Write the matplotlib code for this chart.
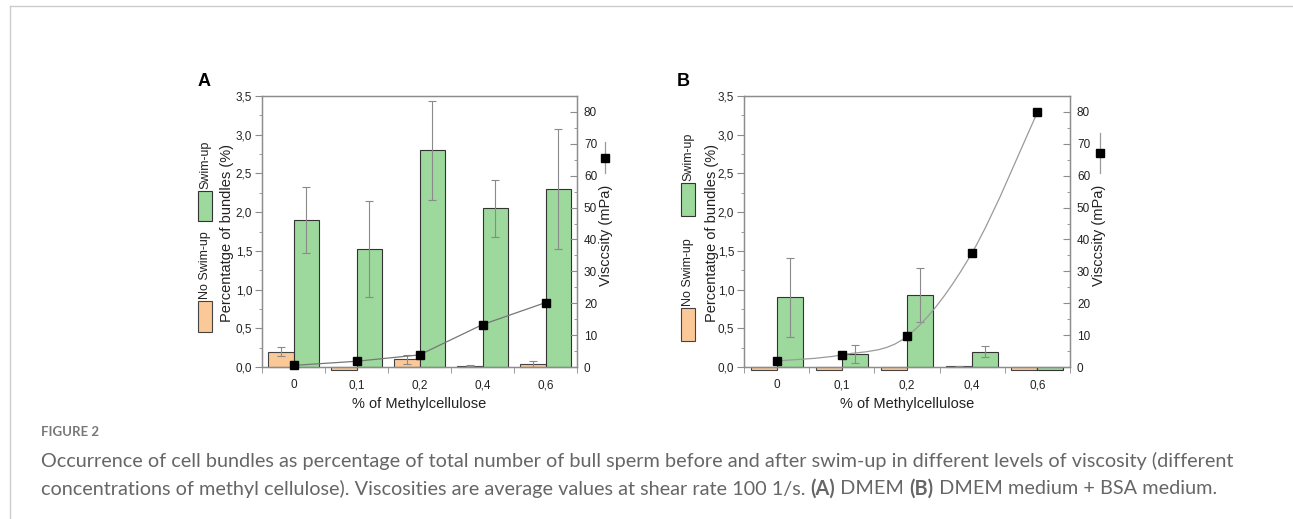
import matplotlib
matplotlib.use("Agg")
from matplotlib import pyplot as plt
from matplotlib.patches import Rectangle, PathPatch
from matplotlib.path import Path
from matplotlib.lines import Line2D
from matplotlib.ticker import FixedLocator, FuncFormatter
import numpy as np

plt.rcParams['font.family'] = ['Liberation Sans', 'DejaVu Sans']

# data
categories = ["0", "0,1", "0,2", "0,4", "0,6"]

# panel A - DMEM
a_no_swim = [0.20, -0.04, 0.10, 0.015, 0.035]
a_no_swim_err = [0.055, 0.0, 0.06, 0.005, 0.04]
a_swim = [1.90, 1.53, 2.80, 2.05, 2.30]
a_swim_err = [0.43, 0.62, 0.64, 0.37, 0.77]
a_visc = [0.5, 1.8, 3.8, 13.3, 20.2]

# panel B - DMEM + BSA
b_no_swim = [-0.04, -0.04, -0.04, 0.01, -0.04]
b_no_swim_err = [0.0, 0.0, 0.0, 0.005, 0.0]
b_swim = [0.90, 0.17, 0.935, 0.20, -0.04]
b_swim_err = [0.51, 0.12, 0.35, 0.07, 0.0]
b_visc = [1.9, 3.8, 9.6, 35.9, 79.9]

W, H = 1293, 519
fig = plt.figure(figsize=(W / 100, H / 100), dpi=100)

ORANGE = "#FBC898"
GREEN = "#9DD89C"
AXGRAY = "#8c8c8c"
TXT = "#222222"


def fx(x):
    return x / W


def fy(y):
    return 1 - y / H


def smooth_path(xs, ys):
    # catmull-rom style cubic bezier through the points (Origin "spline" look)
    pts = np.column_stack([xs, ys]).astype(float)
    verts = [pts[0]]
    codes = [Path.MOVETO]
    n = len(pts)
    for i in range(n - 1):
        p0 = pts[max(i - 1, 0)]
        p1 = pts[i]
        p2 = pts[i + 1]
        p3 = pts[min(i + 2, n - 1)]
        c1 = p1 + (p2 - p0) / 6
        c2 = p2 - (p3 - p1) / 6
        verts += [c1, c2, p2]
        codes += [Path.CURVE4] * 3
    return Path(verts, codes)


def panel(left, right, no_swim, no_err, swim, swim_err, visc, letter, letter_x,
          leg, ylab_x, rlab_x, vleg, curved):
    top, bottom = 96, 367
    ax = fig.add_axes([fx(left), fy(bottom), fx(right - left), (bottom - top) / H])
    x = np.arange(len(categories))
    w = 0.4
    ax.bar(x - w / 2, no_swim, w, color=ORANGE, edgecolor="#444444", linewidth=0.8,
           clip_on=False, zorder=2)
    ax.bar(x + w / 2, swim, w, color=GREEN, edgecolor="#333333", linewidth=0.8,
           clip_on=False, zorder=2)
    for xs, vals, errs in [(x - w / 2, no_swim, no_err), (x + w / 2, swim, swim_err)]:
        for xi, v, e in zip(xs, vals, errs):
            if e > 0:
                ax.errorbar(xi, v, yerr=e, color="#8a8a8a", elinewidth=0.8,
                            capsize=3, capthick=0.8, zorder=3)
    ax.set_xlim(-0.5, len(categories) - 0.5)
    ax.set_ylim(0, 3.5)
    ax.yaxis.set_major_locator(FixedLocator(np.arange(0, 3.51, 0.5)))
    ax.yaxis.set_minor_locator(FixedLocator(np.arange(0.25, 3.5, 0.5)))
    ax.yaxis.set_major_formatter(FuncFormatter(lambda v, p: f"{v:.1f}".replace(".", ",")))
    ax.set_xticks(x)
    ax.set_xticklabels(categories)
    ax.xaxis.set_minor_locator(FixedLocator(np.arange(-0.5, len(categories), 1.0)))
    ax.tick_params(axis="x", which="major", length=0, pad=9, labelsize=8.5, colors=TXT)
    ax.tick_params(axis="x", which="minor", length=4, color=AXGRAY)
    ax.tick_params(axis="y", which="major", length=5, color=AXGRAY, labelsize=8.5,
                   labelcolor=TXT, pad=2)
    ax.tick_params(axis="y", which="minor", length=2.5, color=AXGRAY)
    for s in ax.spines.values():
        s.set_color(AXGRAY)
        s.set_linewidth(0.9)
    ax.set_xlabel("% of Methylcellulose", fontsize=10.5, color=TXT, labelpad=4)

    ax2 = ax.twinx()
    ax2.set_ylim(0, 85)
    ax2.yaxis.set_major_locator(FixedLocator(np.arange(0, 81, 10)))
    ax2.yaxis.set_minor_locator(FixedLocator(np.arange(5, 85, 10)))
    ax2.tick_params(axis="y", which="major", direction="in", length=5, color=AXGRAY,
                    labelsize=8.5, labelcolor=TXT, pad=5)
    ax2.tick_params(axis="y", which="minor", direction="in", length=2.5, color=AXGRAY)
    for s in ax2.spines.values():
        s.set_color(AXGRAY)
        s.set_linewidth(0.9)
    if curved:
        ax2.add_patch(PathPatch(smooth_path(x, visc), facecolor="none",
                                edgecolor="#9a9a9a", linewidth=0.9, zorder=4))
        ax2.plot(x, visc, linestyle="none", marker="s", markersize=5.5,
                 color="black", zorder=5, clip_on=False)
    else:
        ax2.plot(x, visc, color="#777777", linewidth=0.9, marker="s", markersize=5.5,
                 markerfacecolor="black", markeredgecolor="black", zorder=5, clip_on=False)

    # panel letter
    fig.text(fx(letter_x), fy(82), letter, fontsize=13, fontweight="bold",
             ha="left", va="center")

    # left y label
    fig.text(fx(ylab_x), fy(233), "Percentatge of bundles (%)",
             rotation=90, fontsize=10.5, ha="center", va="center", color=TXT)
    # right y label
    fig.text(fx(rlab_x), fy(235), "Visccsity (mPa)",
             rotation=90, fontsize=10.5, ha="center", va="center", color=TXT)

    # vertical legend on the left
    lx, o_top, o_bot, g_top, g_bot = leg
    fig.patches.append(Rectangle((fx(lx - 7), fy(o_bot)), 14 / W, (o_bot - o_top) / H,
                                 transform=fig.transFigure, facecolor=ORANGE,
                                 edgecolor="#444444", linewidth=0.8))
    fig.patches.append(Rectangle((fx(lx - 7), fy(g_bot)), 14 / W, (g_bot - g_top) / H,
                                 transform=fig.transFigure, facecolor=GREEN,
                                 edgecolor="#333333", linewidth=0.8))
    fig.text(fx(lx), fy(o_top - 2), "No Swim-up", rotation=90, fontsize=9,
             ha="center", va="bottom", color=TXT)
    fig.text(fx(lx), fy(g_top - 2), "Swim-up", rotation=90, fontsize=9,
             ha="center", va="bottom", color=TXT)

    # viscosity legend symbol
    vx, vt, vb, vm = vleg
    fig.lines.append(Line2D([fx(vx), fx(vx)], [fy(vt), fy(vb)], transform=fig.transFigure,
                            color="#9a9a9a", linewidth=0.9))
    fig.lines.append(Line2D([fx(vx)], [fy(vm)], transform=fig.transFigure,
                            marker="s", markersize=5.5, color="black", linestyle="none"))


panel(262, 577, a_no_swim, a_no_swim_err, a_swim, a_swim_err, a_visc, "A", 198,
      (205, 301, 332, 191, 221), 227, 606, (605, 142, 173, 158), False)
panel(744, 1070, b_no_swim, b_no_swim_err, b_swim, b_swim_err, b_visc, "B", 677,
      (688, 308, 341, 183, 216), 712, 1099, (1100, 133, 173, 153), True)

# frame lines of the page
fig.lines.append(Line2D([fx(10), fx(W)], [fy(6), fy(6)], transform=fig.transFigure,
                        color="#cccccc", linewidth=1))
fig.lines.append(Line2D([fx(10), fx(10)], [fy(6), fy(H)], transform=fig.transFigure,
                        color="#cccccc", linewidth=1))

# caption
CAP = "#666666"
cap_font = ["Lato", "DejaVu Sans"]
renderer = fig.canvas.get_renderer()
fig.text(fx(41), fy(432), "FIGURE 2", fontsize=9.5, color="#777777", family=cap_font,
         fontweight="bold", va="center")
line1 = fig.text(fx(41), fy(461), "Occurrence of cell bundles as percentage of total number "
                 "of bull sperm before and after swim-up in different levels of viscosity "
                 "(different", fontsize=12, color=CAP, family=cap_font, va="center")
# scale caption font so the first line spans the same width as in the figure
cap_size = 12 * 1191 / line1.get_window_extent(renderer=renderer).width
line1.set_fontsize(cap_size)

pieces = [("concentrations of methyl cellulose). Viscosities are average values at shear "
           "rate 100 1/s. ", "normal"),
          ("(A)", "bold"), (" DMEM ", "normal"), ("(B)", "bold"),
          (" DMEM medium + BSA medium.", "normal")]
xpos = fx(41)
for txt, wt in pieces:
    t = fig.text(xpos, fy(489), txt, fontsize=cap_size, color=CAP, family=cap_font,
                 fontweight=wt, va="center")
    bb = t.get_window_extent(renderer=renderer)
    xpos += bb.width / W

fig.savefig("out.png", dpi=100)
